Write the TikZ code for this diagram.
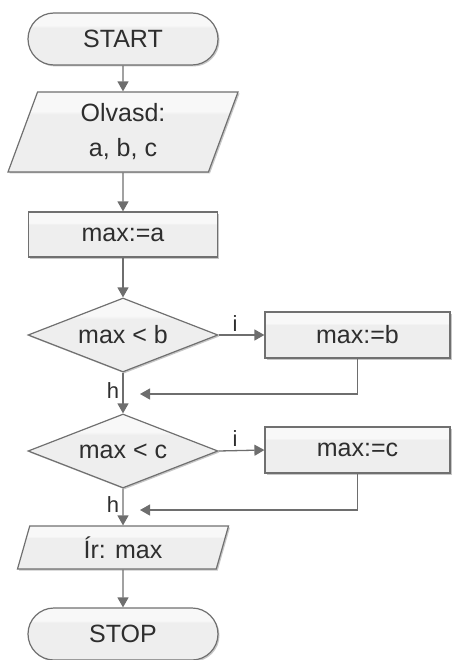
\documentclass[tikz,border=0pt]{standalone}
\usepackage{fontspec}
\setmainfont{Liberation Sans}
\usetikzlibrary{shapes.geometric,arrows.meta,shadows}

\definecolor{edgegray}{HTML}{707070}
\definecolor{linegray}{HTML}{6E6E6E}
\definecolor{fillhi}{HTML}{F8F8F8}
\definecolor{filllo}{HTML}{EEEEEE}
\definecolor{textgray}{HTML}{2E2E2E}

% light band on top, flat grey below
\pgfdeclareverticalshading{boxband}{100bp}{%
  color(0bp)=(filllo); color(25bp)=(filllo); color(61bp)=(filllo);
  color(63bp)=(fillhi); color(100bp)=(fillhi)}

\tikzset{
  shapebase/.style={draw=edgegray, line width=1.2pt, shade, shading=boxband,
    text=textgray, font=\fontsize{25}{35}\selectfont, inner sep=0pt,
    drop shadow={shadow xshift=1.5pt, shadow yshift=-1.5pt, opacity=0.22, fill=black}},
  terminal/.style={shapebase, rectangle, rounded corners=26pt,
    minimum width=190pt, minimum height=52pt},
  process/.style={shapebase, rectangle, minimum height=45pt},
  decision/.style={shapebase, diamond, aspect=2.57, minimum width=190pt, minimum height=74pt},
  inout/.style={shapebase, trapezium, trapezium stretches body, align=center},
  flow/.style={draw=linegray, line width=1.3pt, -{Triangle[length=10pt,width=11pt]}},
  joinline/.style={flow},
  branch/.style={text=textgray, font=\fontsize{22}{26}\selectfont}
}

\begin{document}
\begin{tikzpicture}[x=1pt, y=-1pt]
  \useasboundingbox (0,0) rectangle (452,660);

  % main column
  \node[terminal] (start) at (123,39) {START};
  \node[inout, trapezium left angle=62.3, trapezium right angle=117.7,
        minimum width=230pt, minimum height=80pt] (read) at (123,132) {Olvasd:\\a, b, c};
  \node[process, minimum width=189pt] (seta) at (123,234.5) {max:=a};
  \node[decision] (d1) at (123,335) {max < b};
  \node[decision] (d2) at (123,451) {max < c};
  \node[inout, trapezium left angle=60.8, trapezium right angle=119.2,
        minimum width=211pt, minimum height=43pt] (write) at (123,547.5) {Ír: max};
  \node[terminal] (stop) at (123,634) {STOP};

  % branch boxes
  \node[process, minimum width=185pt, minimum height=46pt] (setb) at (357.5,335) {max:=b};
  \node[process, minimum width=185pt, minimum height=46pt] (setc) at (357.5,450) {max:=c};

  % loose ends of the return lines
  \coordinate (j1) at (140,394);
  \coordinate (j2) at (140,510);

  % connectors
  \draw[flow] (start.south) -- (read.north);
  \draw[flow] (read.south) -- (seta.north);
  \draw[flow] (seta.south) -- (d1.north);
  \draw[flow] (d1.south) -- node[branch, left, pos=0.45] (h1) {h} (d2.north);
  \draw[flow] (d2.south) -- node[branch, left, pos=0.42] (h2) {h} (write.north);
  \draw[flow] (write.south) -- (stop.north);

  \draw[flow] (d1.east) -- node[branch, above, pos=0.36] (i1) {i} (setb.west);
  \draw[flow] (d2.east) -- node[branch, above, pos=0.36] (i2) {i} (setc.west);

  \draw[joinline] (setb.south) |- (j1);
  \draw[joinline] (setc.south) |- (j2);
\end{tikzpicture}
\end{document}
